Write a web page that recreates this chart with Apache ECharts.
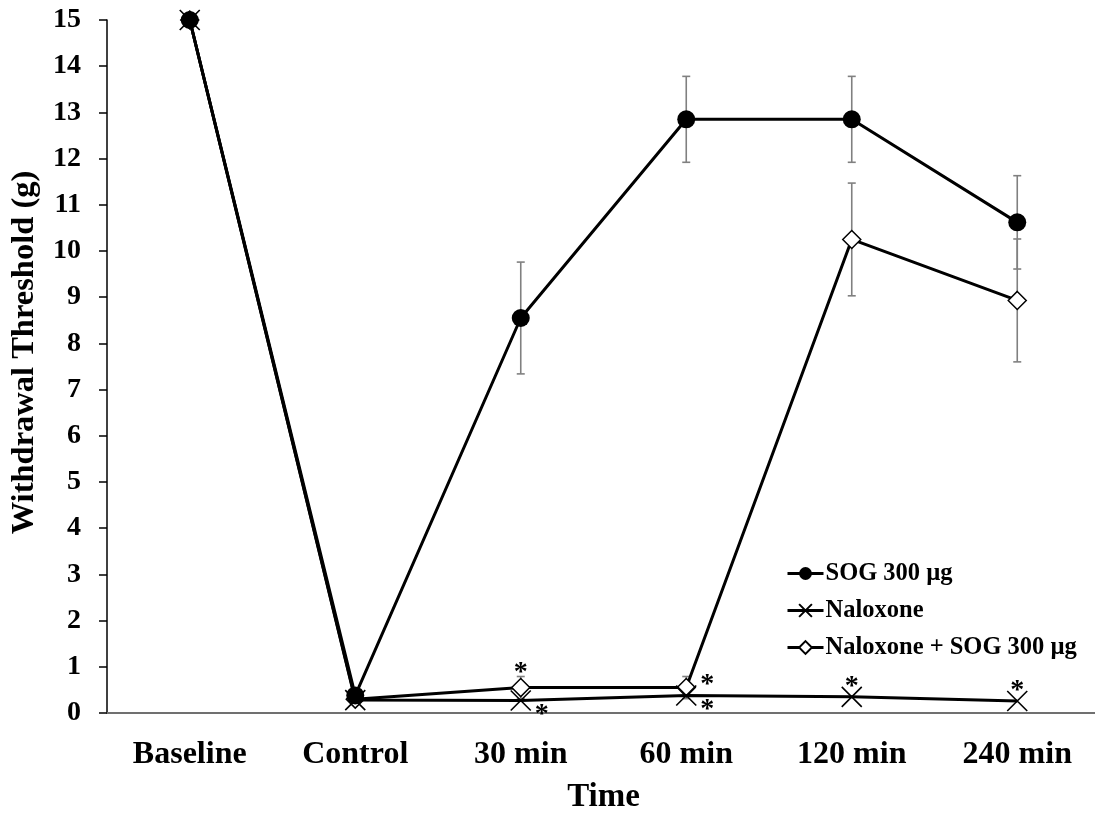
<!DOCTYPE html>
<html>
<head>
<meta charset="utf-8">
<script src="https://cdn.jsdelivr.net/npm/echarts@6/dist/echarts.min.js"></script>
<style>
html,body{margin:0;padding:0;background:#fff;}
#chart{width:1095px;height:814px;}
</style>
</head>
<body>
<div id="chart"></div>
<script>
// ---- data ----
const categories = ['Baseline', 'Control', '30 min', '60 min', '120 min', '240 min'];
const sog = [15, 0.38, 8.55, 12.85, 12.85, 10.62];
const sogErr = [0, 0, 1.21, 0.93, 0.93, 1.01];
const naloxone = [15, 0.28, 0.27, 0.38, 0.35, 0.26];
const nalSog = [15, 0.3, 0.55, 0.55, 10.25, 8.93];
const nalSogErr = [0, 0, 0.24, 0.24, 1.22, 1.33];
const seriesNames = ['SOG 300 µg', 'Naloxone', 'Naloxone + SOG 300 µg'];
const yTicks = [0, 15, 1]; // min, max, interval
// asterisks: [category index, anchor value, which mark]
const asterisks = [
  [2, 0.55, 'above'],
  [2, 0.27, 'lowright'],
  [3, 0.55, 'right'],
  [3, 0.38, 'lowright'],
  [4, 0.35, 'aboveX'],
  [5, 0.26, 'aboveX']
];

// ---- styles ----
const FONT = "'Liberation Serif', 'Times New Roman', serif";
const astOffset = {
  above: [0, -15],
  lowright: [21, 14],
  right: [21, -3],
  aboveX: [0, -10]
};

function errData(vals, errs) {
  const out = [];
  vals.forEach((v, i) => { if (errs[i] > 0) out.push([i, v, v - errs[i], v + errs[i]]); });
  return out;
}

function errRender(params, api) {
  const c = api.value(0);
  const lo = api.coord([c, api.value(2)]);
  const hi = api.coord([c, api.value(3)]);
  const cap = 4;
  const st = { stroke: '#808080', lineWidth: 1.6 };
  return {
    type: 'group',
    children: [
      { type: 'line', shape: { x1: lo[0], y1: lo[1], x2: hi[0], y2: hi[1] }, style: st },
      { type: 'line', shape: { x1: lo[0] - cap, y1: lo[1], x2: lo[0] + cap, y2: lo[1] }, style: st },
      { type: 'line', shape: { x1: hi[0] - cap, y1: hi[1], x2: hi[0] + cap, y2: hi[1] }, style: st }
    ]
  };
}

function astRender(params, api) {
  const p = api.coord([api.value(0), api.value(1)]);
  const off = astOffset[asterisks[params.dataIndex][2]];
  return {
    type: 'text',
    style: {
      x: p[0] + off[0], y: p[1] + off[1],
      text: '*', fill: '#000',
      font: 'bold 28px ' + FONT,
      align: 'center', verticalAlign: 'middle'
    }
  };
}

const chart = echarts.init(document.getElementById('chart'), null, { renderer: 'canvas' });
const option = {
  animation: false,
  backgroundColor: '#fff',
  grid: { left: 107, top: 20, width: 993, bottom: 101, containLabel: false, outerBoundsMode: 'none' },
  legend: {
    orient: 'vertical',
    left: 781,
    top: 556,
    itemWidth: 36,
    itemHeight: 16,
    itemGap: 12,
    data: seriesNames,
    lineStyle: { width: 3 },
    textStyle: { fontFamily: FONT, fontWeight: 'bold', fontSize: 24.5, color: '#000', padding: [0, 0, 0, -3] }
  },
  xAxis: {
    type: 'category',
    data: categories,
    boundaryGap: true,
    name: 'Time',
    nameLocation: 'middle',
    nameGap: 68,
    nameTextStyle: { fontFamily: FONT, fontWeight: 'bold', fontSize: 33, color: '#000' },
    axisLine: { lineStyle: { color: '#707070', width: 2 } },
    axisTick: { show: false },
    axisLabel: { fontFamily: FONT, fontWeight: 'bold', fontSize: 32, color: '#000', margin: 26, interval: 0 },
    splitLine: { show: false }
  },
  yAxis: {
    type: 'value',
    min: yTicks[0], max: yTicks[1], interval: yTicks[2],
    name: 'Withdrawal Threshold (g)',
    nameLocation: 'middle',
    nameGap: 66,
    nameTextStyle: { fontFamily: FONT, fontWeight: 'bold', fontSize: 32.5, color: '#000', padding: [0, 0, 0, 28] },
    axisLine: { show: true, lineStyle: { color: '#000', width: 1.5 } },
    axisTick: { show: true, length: 8, lineStyle: { color: '#000', width: 1.5 } },
    axisLabel: { fontFamily: FONT, fontWeight: 'bold', fontSize: 28, color: '#000', margin: 26 },
    splitLine: { show: false }
  },
  series: [
    {
      type: 'custom', name: 'errNalSog', renderItem: errRender, data: errData(nalSog, nalSogErr), z: 1, silent: true
    },
    {
      type: 'custom', name: 'errSog', renderItem: errRender, data: errData(sog, sogErr), z: 1, silent: true
    },
    {
      name: seriesNames[2], type: 'line', data: nalSog, z: 2,
      symbol: 'diamond', symbolSize: [18, 18], showAllSymbol: true,
      lineStyle: { color: '#000', width: 3 },
      itemStyle: { color: '#fff', borderColor: '#000', borderWidth: 1.5 },
      emphasis: { disabled: true }
    },
    {
      name: seriesNames[1], type: 'line', data: naloxone, z: 3,
      symbol: 'path://M0,0L10,10M10,0L0,10', symbolSize: [20, 20], showAllSymbol: true,
      lineStyle: { color: '#000', width: 3 },
      itemStyle: { color: 'rgba(0,0,0,0)', borderColor: '#000', borderWidth: 1.6 },
      emphasis: { disabled: true }
    },
    {
      name: seriesNames[0], type: 'line', data: sog, z: 4,
      symbol: 'circle', symbolSize: 18, showAllSymbol: true,
      lineStyle: { color: '#000', width: 3 },
      itemStyle: { color: '#000' },
      emphasis: { disabled: true }
    },
    {
      type: 'custom', name: 'ast', renderItem: astRender, z: 5, silent: true,
      data: asterisks.map(a => [a[0], a[1]])
    }
  ]
};
chart.setOption(option);
</script>
</body>
</html>
